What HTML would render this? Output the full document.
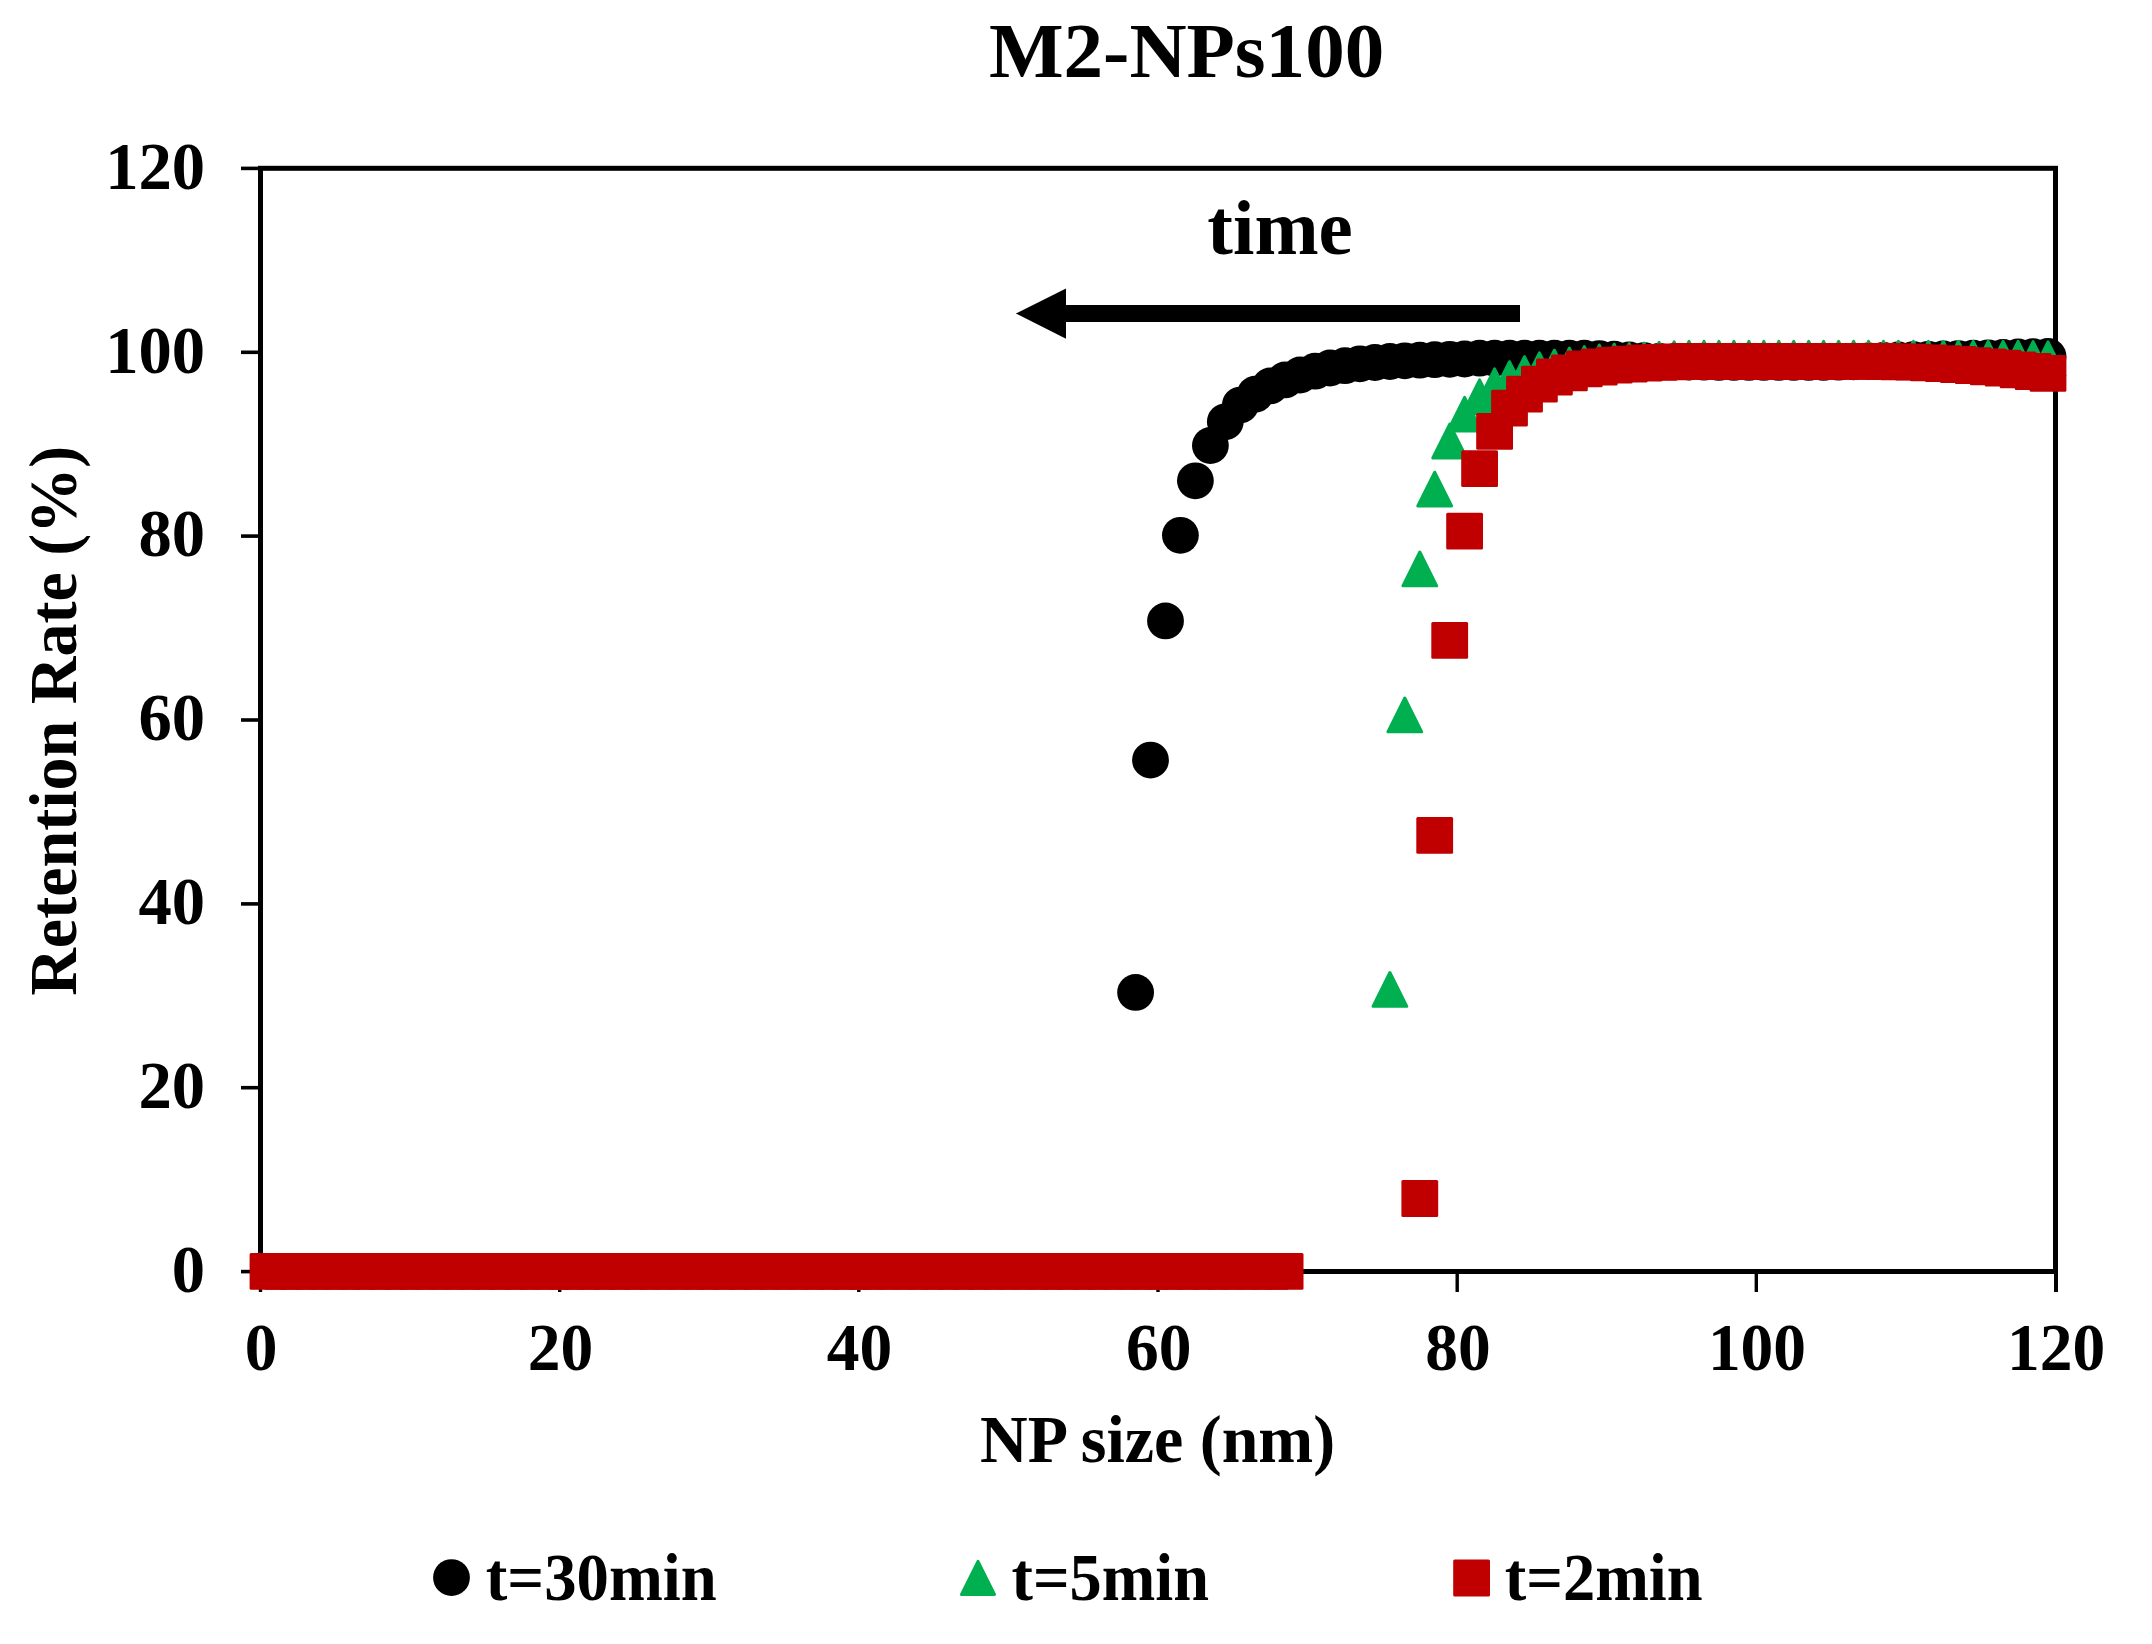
<!DOCTYPE html>
<html lang="en">
<head>
<meta charset="utf-8">
<title>M2-NPs100</title>
<style>
html,body{margin:0;padding:0;background:#fff;}
body{width:2152px;height:1644px;overflow:hidden;}
svg{display:block;}
</style>
</head>
<body>
<svg width="2152" height="1644" viewBox="0 0 2152 1644">
<rect width="2152" height="1644" fill="#fff"/>
<g stroke="#000" fill="none">
<rect x="260.5" y="168.3" width="1795.0" height="1103.2" stroke-width="5"/>
<line x1="241" y1="1271.6" x2="260.5" y2="1271.6" stroke-width="3.6"/>
<line x1="241" y1="1087.7" x2="260.5" y2="1087.7" stroke-width="3.6"/>
<line x1="241" y1="903.9" x2="260.5" y2="903.9" stroke-width="3.6"/>
<line x1="241" y1="720.0" x2="260.5" y2="720.0" stroke-width="3.6"/>
<line x1="241" y1="536.1" x2="260.5" y2="536.1" stroke-width="3.6"/>
<line x1="241" y1="352.3" x2="260.5" y2="352.3" stroke-width="3.6"/>
<line x1="241" y1="168.4" x2="260.5" y2="168.4" stroke-width="3.6"/>
<line x1="260.5" y1="1271.5" x2="260.5" y2="1292" stroke-width="3.4"/>
<line x1="559.7" y1="1271.5" x2="559.7" y2="1292" stroke-width="3.4"/>
<line x1="858.8" y1="1271.5" x2="858.8" y2="1292" stroke-width="3.4"/>
<line x1="1158.0" y1="1271.5" x2="1158.0" y2="1292" stroke-width="3.4"/>
<line x1="1457.2" y1="1271.5" x2="1457.2" y2="1292" stroke-width="3.4"/>
<line x1="1756.3" y1="1271.5" x2="1756.3" y2="1292" stroke-width="3.4"/>
<line x1="2056.0" y1="1271.5" x2="2056.0" y2="1292" stroke-width="4"/>
</g>
<path d="M1520 305H1066V288.4L1015.8 313.5L1066 338.8V322H1520Z" fill="#000"/>
<g fill="#000">
<circle cx="1135.6" cy="992.4" r="18.4"/>
<circle cx="1150.5" cy="760.1" r="18.4"/>
<circle cx="1165.5" cy="620.9" r="18.4"/>
<circle cx="1180.4" cy="535.3" r="18.4"/>
<circle cx="1195.4" cy="480.8" r="18.4"/>
<circle cx="1210.4" cy="445.5" r="18.4"/>
<circle cx="1225.3" cy="421.8" r="18.4"/>
<circle cx="1240.3" cy="405.1" r="18.4"/>
<circle cx="1255.2" cy="394.2" r="18.4"/>
<circle cx="1270.2" cy="385.9" r="18.4"/>
<circle cx="1285.1" cy="379.9" r="18.4"/>
<circle cx="1300.1" cy="375.0" r="18.4"/>
<circle cx="1315.1" cy="371.2" r="18.4"/>
<circle cx="1330.0" cy="368.0" r="18.4"/>
<circle cx="1345.0" cy="365.7" r="18.4"/>
<circle cx="1359.9" cy="363.8" r="18.4"/>
<circle cx="1374.9" cy="362.5" r="18.4"/>
<circle cx="1389.9" cy="361.5" r="18.4"/>
<circle cx="1404.8" cy="360.8" r="18.4"/>
<circle cx="1419.8" cy="360.2" r="18.4"/>
<circle cx="1434.7" cy="359.7" r="18.4"/>
<circle cx="1449.7" cy="359.3" r="18.4"/>
<circle cx="1464.6" cy="359.0" r="18.4"/>
<circle cx="1479.6" cy="358.2" r="18.4"/>
<circle cx="1494.6" cy="358.2" r="18.4"/>
<circle cx="1509.5" cy="358.2" r="18.4"/>
<circle cx="1524.5" cy="358.2" r="18.4"/>
<circle cx="1539.4" cy="358.2" r="18.4"/>
<circle cx="1554.4" cy="358.2" r="18.4"/>
<circle cx="1569.4" cy="358.2" r="18.4"/>
<circle cx="1584.3" cy="358.2" r="18.4"/>
<circle cx="1599.3" cy="358.6" r="18.4"/>
<circle cx="1614.2" cy="359.2" r="18.4"/>
<circle cx="1629.2" cy="359.9" r="18.4"/>
<circle cx="1644.1" cy="360.6" r="18.4"/>
<circle cx="1659.1" cy="361.3" r="18.4"/>
<circle cx="1674.1" cy="361.7" r="18.4"/>
<circle cx="1689.0" cy="362.0" r="18.4"/>
<circle cx="1704.0" cy="362.2" r="18.4"/>
<circle cx="1718.9" cy="362.4" r="18.4"/>
<circle cx="1733.9" cy="362.4" r="18.4"/>
<circle cx="1748.9" cy="362.4" r="18.4"/>
<circle cx="1763.8" cy="362.4" r="18.4"/>
<circle cx="1778.8" cy="362.4" r="18.4"/>
<circle cx="1793.7" cy="362.4" r="18.4"/>
<circle cx="1808.7" cy="362.4" r="18.4"/>
<circle cx="1823.6" cy="362.4" r="18.4"/>
<circle cx="1838.6" cy="362.2" r="18.4"/>
<circle cx="1853.6" cy="361.8" r="18.4"/>
<circle cx="1868.5" cy="361.0" r="18.4"/>
<circle cx="1883.5" cy="360.3" r="18.4"/>
<circle cx="1898.4" cy="360.0" r="18.4"/>
<circle cx="1913.4" cy="359.6" r="18.4"/>
<circle cx="1928.4" cy="359.3" r="18.4"/>
<circle cx="1943.3" cy="359.0" r="18.4"/>
<circle cx="1958.3" cy="358.6" r="18.4"/>
<circle cx="1973.2" cy="358.2" r="18.4"/>
<circle cx="1988.2" cy="357.8" r="18.4"/>
<circle cx="2003.1" cy="357.4" r="18.4"/>
<circle cx="2018.1" cy="357.0" r="18.4"/>
<circle cx="2033.1" cy="356.7" r="18.4"/>
<circle cx="2048.0" cy="356.4" r="18.4"/>
</g>
<g fill="#00B050" stroke="#00B050" stroke-width="3" stroke-linejoin="round">
<path d="M1389.9 972.5L1406.8 1006.3H1373.0Z"/>
<path d="M1404.8 698.0L1421.7 731.8H1387.9Z"/>
<path d="M1419.8 552.0L1436.7 585.8H1402.9Z"/>
<path d="M1434.7 472.2L1451.6 506.0H1417.8Z"/>
<path d="M1449.7 424.1L1466.6 457.9H1432.8Z"/>
<path d="M1464.6 397.3L1481.5 431.1H1447.7Z"/>
<path d="M1479.6 379.9L1496.5 413.7H1462.7Z"/>
<path d="M1494.6 368.9L1511.5 402.7H1477.7Z"/>
<path d="M1509.5 361.7L1526.4 395.5H1492.6Z"/>
<path d="M1524.5 356.7L1541.4 390.5H1507.6Z"/>
<path d="M1539.4 352.8L1556.3 386.6H1522.5Z"/>
<path d="M1554.4 350.2L1571.3 384.0H1537.5Z"/>
<path d="M1569.4 348.1L1586.3 381.9H1552.5Z"/>
<path d="M1584.3 346.6L1601.2 380.4H1567.4Z"/>
<path d="M1599.3 345.1L1616.2 378.9H1582.4Z"/>
<path d="M1614.2 344.2L1631.1 378.0H1597.3Z"/>
<path d="M1629.2 343.6L1646.1 377.4H1612.3Z"/>
<path d="M1644.1 343.1L1661.0 376.9H1627.2Z"/>
<path d="M1659.1 342.4L1676.0 376.2H1642.2Z"/>
<path d="M1674.1 341.8L1691.0 375.6H1657.2Z"/>
<path d="M1689.0 341.4L1705.9 375.2H1672.1Z"/>
<path d="M1704.0 341.4L1720.9 375.2H1687.1Z"/>
<path d="M1718.9 341.4L1735.8 375.2H1702.0Z"/>
<path d="M1733.9 341.4L1750.8 375.2H1717.0Z"/>
<path d="M1748.9 341.4L1765.8 375.2H1732.0Z"/>
<path d="M1763.8 341.4L1780.7 375.2H1746.9Z"/>
<path d="M1778.8 341.4L1795.7 375.2H1761.9Z"/>
<path d="M1793.7 341.4L1810.6 375.2H1776.8Z"/>
<path d="M1808.7 341.4L1825.6 375.2H1791.8Z"/>
<path d="M1823.6 341.4L1840.5 375.2H1806.7Z"/>
<path d="M1838.6 341.4L1855.5 375.2H1821.7Z"/>
<path d="M1853.6 341.4L1870.5 375.2H1836.7Z"/>
<path d="M1868.5 341.4L1885.4 375.2H1851.6Z"/>
<path d="M1883.5 341.4L1900.4 375.2H1866.6Z"/>
<path d="M1898.4 341.4L1915.3 375.2H1881.5Z"/>
<path d="M1913.4 341.4L1930.3 375.2H1896.5Z"/>
<path d="M1928.4 341.4L1945.3 375.2H1911.5Z"/>
<path d="M1943.3 341.4L1960.2 375.2H1926.4Z"/>
<path d="M1958.3 341.4L1975.2 375.2H1941.4Z"/>
<path d="M1973.2 341.4L1990.1 375.2H1956.3Z"/>
<path d="M1988.2 341.4L2005.1 375.2H1971.3Z"/>
<path d="M2003.1 341.4L2020.0 375.2H1986.2Z"/>
<path d="M2018.1 341.4L2035.0 375.2H2001.2Z"/>
<path d="M2033.1 341.6L2050.0 375.4H2016.2Z"/>
<path d="M2048.0 341.8L2064.9 375.6H2031.1Z"/>
</g>
<g fill="#C00000">
<rect x="249.6" y="1253.0" width="36.8" height="36.8" rx="1.5"/>
<rect x="264.5" y="1253.0" width="36.8" height="36.8" rx="1.5"/>
<rect x="279.5" y="1253.0" width="36.8" height="36.8" rx="1.5"/>
<rect x="294.5" y="1253.0" width="36.8" height="36.8" rx="1.5"/>
<rect x="309.4" y="1253.0" width="36.8" height="36.8" rx="1.5"/>
<rect x="324.4" y="1253.0" width="36.8" height="36.8" rx="1.5"/>
<rect x="339.3" y="1253.0" width="36.8" height="36.8" rx="1.5"/>
<rect x="354.3" y="1253.0" width="36.8" height="36.8" rx="1.5"/>
<rect x="369.2" y="1253.0" width="36.8" height="36.8" rx="1.5"/>
<rect x="384.2" y="1253.0" width="36.8" height="36.8" rx="1.5"/>
<rect x="399.2" y="1253.0" width="36.8" height="36.8" rx="1.5"/>
<rect x="414.1" y="1253.0" width="36.8" height="36.8" rx="1.5"/>
<rect x="429.1" y="1253.0" width="36.8" height="36.8" rx="1.5"/>
<rect x="444.0" y="1253.0" width="36.8" height="36.8" rx="1.5"/>
<rect x="459.0" y="1253.0" width="36.8" height="36.8" rx="1.5"/>
<rect x="474.0" y="1253.0" width="36.8" height="36.8" rx="1.5"/>
<rect x="488.9" y="1253.0" width="36.8" height="36.8" rx="1.5"/>
<rect x="503.9" y="1253.0" width="36.8" height="36.8" rx="1.5"/>
<rect x="518.8" y="1253.0" width="36.8" height="36.8" rx="1.5"/>
<rect x="533.8" y="1253.0" width="36.8" height="36.8" rx="1.5"/>
<rect x="548.7" y="1253.0" width="36.8" height="36.8" rx="1.5"/>
<rect x="563.7" y="1253.0" width="36.8" height="36.8" rx="1.5"/>
<rect x="578.7" y="1253.0" width="36.8" height="36.8" rx="1.5"/>
<rect x="593.6" y="1253.0" width="36.8" height="36.8" rx="1.5"/>
<rect x="608.6" y="1253.0" width="36.8" height="36.8" rx="1.5"/>
<rect x="623.5" y="1253.0" width="36.8" height="36.8" rx="1.5"/>
<rect x="638.5" y="1253.0" width="36.8" height="36.8" rx="1.5"/>
<rect x="653.5" y="1253.0" width="36.8" height="36.8" rx="1.5"/>
<rect x="668.4" y="1253.0" width="36.8" height="36.8" rx="1.5"/>
<rect x="683.4" y="1253.0" width="36.8" height="36.8" rx="1.5"/>
<rect x="698.3" y="1253.0" width="36.8" height="36.8" rx="1.5"/>
<rect x="713.3" y="1253.0" width="36.8" height="36.8" rx="1.5"/>
<rect x="728.2" y="1253.0" width="36.8" height="36.8" rx="1.5"/>
<rect x="743.2" y="1253.0" width="36.8" height="36.8" rx="1.5"/>
<rect x="758.2" y="1253.0" width="36.8" height="36.8" rx="1.5"/>
<rect x="773.1" y="1253.0" width="36.8" height="36.8" rx="1.5"/>
<rect x="788.1" y="1253.0" width="36.8" height="36.8" rx="1.5"/>
<rect x="803.0" y="1253.0" width="36.8" height="36.8" rx="1.5"/>
<rect x="818.0" y="1253.0" width="36.8" height="36.8" rx="1.5"/>
<rect x="833.0" y="1253.0" width="36.8" height="36.8" rx="1.5"/>
<rect x="847.9" y="1253.0" width="36.8" height="36.8" rx="1.5"/>
<rect x="862.9" y="1253.0" width="36.8" height="36.8" rx="1.5"/>
<rect x="877.8" y="1253.0" width="36.8" height="36.8" rx="1.5"/>
<rect x="892.8" y="1253.0" width="36.8" height="36.8" rx="1.5"/>
<rect x="907.7" y="1253.0" width="36.8" height="36.8" rx="1.5"/>
<rect x="922.7" y="1253.0" width="36.8" height="36.8" rx="1.5"/>
<rect x="937.7" y="1253.0" width="36.8" height="36.8" rx="1.5"/>
<rect x="952.6" y="1253.0" width="36.8" height="36.8" rx="1.5"/>
<rect x="967.6" y="1253.0" width="36.8" height="36.8" rx="1.5"/>
<rect x="982.5" y="1253.0" width="36.8" height="36.8" rx="1.5"/>
<rect x="997.5" y="1253.0" width="36.8" height="36.8" rx="1.5"/>
<rect x="1012.5" y="1253.0" width="36.8" height="36.8" rx="1.5"/>
<rect x="1027.4" y="1253.0" width="36.8" height="36.8" rx="1.5"/>
<rect x="1042.4" y="1253.0" width="36.8" height="36.8" rx="1.5"/>
<rect x="1057.3" y="1253.0" width="36.8" height="36.8" rx="1.5"/>
<rect x="1072.3" y="1253.0" width="36.8" height="36.8" rx="1.5"/>
<rect x="1087.2" y="1253.0" width="36.8" height="36.8" rx="1.5"/>
<rect x="1102.2" y="1253.0" width="36.8" height="36.8" rx="1.5"/>
<rect x="1117.2" y="1253.0" width="36.8" height="36.8" rx="1.5"/>
<rect x="1132.1" y="1253.0" width="36.8" height="36.8" rx="1.5"/>
<rect x="1147.1" y="1253.0" width="36.8" height="36.8" rx="1.5"/>
<rect x="1162.0" y="1253.0" width="36.8" height="36.8" rx="1.5"/>
<rect x="1177.0" y="1253.0" width="36.8" height="36.8" rx="1.5"/>
<rect x="1192.0" y="1253.0" width="36.8" height="36.8" rx="1.5"/>
<rect x="1206.9" y="1253.0" width="36.8" height="36.8" rx="1.5"/>
<rect x="1221.9" y="1253.0" width="36.8" height="36.8" rx="1.5"/>
<rect x="1236.8" y="1253.0" width="36.8" height="36.8" rx="1.5"/>
<rect x="1251.8" y="1253.0" width="36.8" height="36.8" rx="1.5"/>
<rect x="1266.7" y="1253.0" width="36.8" height="36.8" rx="1.5"/>
<rect x="1401.4" y="1180.1" width="36.8" height="36.8" rx="1.5"/>
<rect x="1416.3" y="816.9" width="36.8" height="36.8" rx="1.5"/>
<rect x="1431.3" y="622.0" width="36.8" height="36.8" rx="1.5"/>
<rect x="1446.2" y="512.7" width="36.8" height="36.8" rx="1.5"/>
<rect x="1461.2" y="450.3" width="36.8" height="36.8" rx="1.5"/>
<rect x="1476.2" y="413.0" width="36.8" height="36.8" rx="1.5"/>
<rect x="1491.1" y="389.8" width="36.8" height="36.8" rx="1.5"/>
<rect x="1506.1" y="375.8" width="36.8" height="36.8" rx="1.5"/>
<rect x="1521.0" y="365.7" width="36.8" height="36.8" rx="1.5"/>
<rect x="1536.0" y="358.6" width="36.8" height="36.8" rx="1.5"/>
<rect x="1551.0" y="354.5" width="36.8" height="36.8" rx="1.5"/>
<rect x="1565.9" y="350.5" width="36.8" height="36.8" rx="1.5"/>
<rect x="1580.9" y="348.6" width="36.8" height="36.8" rx="1.5"/>
<rect x="1595.8" y="346.8" width="36.8" height="36.8" rx="1.5"/>
<rect x="1610.8" y="345.8" width="36.8" height="36.8" rx="1.5"/>
<rect x="1625.7" y="344.6" width="36.8" height="36.8" rx="1.5"/>
<rect x="1640.7" y="344.0" width="36.8" height="36.8" rx="1.5"/>
<rect x="1655.7" y="343.4" width="36.8" height="36.8" rx="1.5"/>
<rect x="1670.6" y="342.9" width="36.8" height="36.8" rx="1.5"/>
<rect x="1685.6" y="342.9" width="36.8" height="36.8" rx="1.5"/>
<rect x="1700.5" y="342.9" width="36.8" height="36.8" rx="1.5"/>
<rect x="1715.5" y="342.9" width="36.8" height="36.8" rx="1.5"/>
<rect x="1730.5" y="342.9" width="36.8" height="36.8" rx="1.5"/>
<rect x="1745.4" y="342.9" width="36.8" height="36.8" rx="1.5"/>
<rect x="1760.4" y="342.9" width="36.8" height="36.8" rx="1.5"/>
<rect x="1775.3" y="342.9" width="36.8" height="36.8" rx="1.5"/>
<rect x="1790.3" y="342.9" width="36.8" height="36.8" rx="1.5"/>
<rect x="1805.2" y="342.9" width="36.8" height="36.8" rx="1.5"/>
<rect x="1820.2" y="342.9" width="36.8" height="36.8" rx="1.5"/>
<rect x="1835.2" y="342.9" width="36.8" height="36.8" rx="1.5"/>
<rect x="1850.1" y="342.9" width="36.8" height="36.8" rx="1.5"/>
<rect x="1865.1" y="343.1" width="36.8" height="36.8" rx="1.5"/>
<rect x="1880.0" y="343.4" width="36.8" height="36.8" rx="1.5"/>
<rect x="1895.0" y="343.8" width="36.8" height="36.8" rx="1.5"/>
<rect x="1910.0" y="344.5" width="36.8" height="36.8" rx="1.5"/>
<rect x="1924.9" y="345.2" width="36.8" height="36.8" rx="1.5"/>
<rect x="1939.9" y="346.1" width="36.8" height="36.8" rx="1.5"/>
<rect x="1954.8" y="347.2" width="36.8" height="36.8" rx="1.5"/>
<rect x="1969.8" y="348.4" width="36.8" height="36.8" rx="1.5"/>
<rect x="1984.7" y="349.8" width="36.8" height="36.8" rx="1.5"/>
<rect x="1999.7" y="351.4" width="36.8" height="36.8" rx="1.5"/>
<rect x="2014.7" y="353.1" width="36.8" height="36.8" rx="1.5"/>
<rect x="2029.6" y="354.9" width="36.8" height="36.8" rx="1.5"/>
</g>
<circle cx="451.5" cy="1577.6" r="18.4" fill="#000"/><path d="M978 1561.4L994.5 1594.4H961.5Z" fill="#00B050" stroke="#00B050" stroke-width="3" stroke-linejoin="round"/><rect x="1453.2" y="1559.6" width="36.8" height="36.8" rx="1.5" fill="#C00000"/>
<g font-family="'Liberation Serif', serif" font-weight="bold" fill="#000">
<text x="1186.6" y="77.4" font-size="77.8" text-anchor="middle" textLength="395.3" lengthAdjust="spacingAndGlyphs">M2-NPs100</text>
<text x="1280.05" y="254.3" font-size="77.8" text-anchor="middle" textLength="145.4" lengthAdjust="spacingAndGlyphs">time</text>
<text x="205.2" y="1291.9" font-size="66.67" text-anchor="end">0</text>
<text x="205.2" y="1108.0" font-size="66.67" text-anchor="end">20</text>
<text x="205.2" y="924.2" font-size="66.67" text-anchor="end">40</text>
<text x="205.2" y="740.3" font-size="66.67" text-anchor="end">60</text>
<text x="205.2" y="556.4" font-size="66.67" text-anchor="end">80</text>
<text x="205.2" y="372.6" font-size="66.67" text-anchor="end">100</text>
<text x="205.2" y="188.7" font-size="66.67" text-anchor="end">120</text>
<text x="261.2" y="1369.7" font-size="66.67" text-anchor="middle" textLength="32.7" lengthAdjust="spacingAndGlyphs">0</text>
<text x="560.4" y="1369.7" font-size="66.67" text-anchor="middle" textLength="65.5" lengthAdjust="spacingAndGlyphs">20</text>
<text x="859.5" y="1369.7" font-size="66.67" text-anchor="middle" textLength="65.5" lengthAdjust="spacingAndGlyphs">40</text>
<text x="1158.7" y="1369.7" font-size="66.67" text-anchor="middle" textLength="65.5" lengthAdjust="spacingAndGlyphs">60</text>
<text x="1457.9" y="1369.7" font-size="66.67" text-anchor="middle" textLength="65.5" lengthAdjust="spacingAndGlyphs">80</text>
<text x="1757.0" y="1369.7" font-size="66.67" text-anchor="middle" textLength="98.2" lengthAdjust="spacingAndGlyphs">100</text>
<text x="2056.2" y="1369.7" font-size="66.67" text-anchor="middle" textLength="98.2" lengthAdjust="spacingAndGlyphs">120</text>
<text x="1157.65" y="1461.6" font-size="66.67" text-anchor="middle" textLength="355.2" lengthAdjust="spacingAndGlyphs">NP size (nm)</text>
<text transform="translate(76.2 720.75) rotate(-90)" font-size="66.67" text-anchor="middle" textLength="550.2" lengthAdjust="spacingAndGlyphs">Retention Rate (%)</text>
<text x="485.8" y="1600.3" font-size="66.67" text-anchor="start" textLength="231.0" lengthAdjust="spacingAndGlyphs">t=30min</text>
<text x="1011.5" y="1600.3" font-size="66.67" text-anchor="start" textLength="197.5" lengthAdjust="spacingAndGlyphs">t=5min</text>
<text x="1504.8" y="1600.3" font-size="66.67" text-anchor="start" textLength="197.8" lengthAdjust="spacingAndGlyphs">t=2min</text>
</g>
</svg>
</body>
</html>
